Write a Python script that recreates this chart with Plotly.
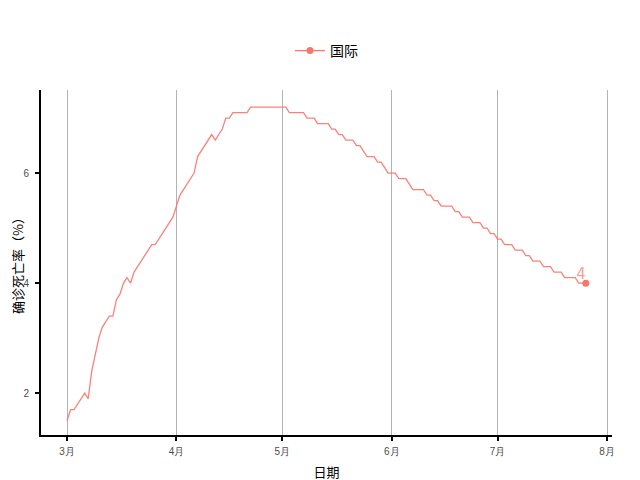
import pandas as pd
import plotly.graph_objects as go

# daily death rate of confirmed cases (%), 2020-03-01 onward
start_date = "2020-03-01"
death_rate = [
    1.5, 1.7, 1.7, 1.8, 1.9, 2.0, 1.9, 2.4, 2.7, 3.0,
    3.2, 3.3, 3.4, 3.4, 3.7, 3.8, 4.0, 4.1, 4.0, 4.2,
    4.3, 4.4, 4.5, 4.6, 4.7, 4.7, 4.8, 4.9, 5.0, 5.1,
    5.2, 5.4, 5.6, 5.7, 5.8, 5.9, 6.0, 6.3, 6.4, 6.5,
    6.6, 6.7, 6.6, 6.7, 6.8, 7.0, 7.0, 7.1, 7.1, 7.1,
    7.1, 7.1, 7.2, 7.2, 7.2, 7.2, 7.2, 7.2, 7.2, 7.2,
    7.2, 7.2, 7.2, 7.1, 7.1, 7.1, 7.1, 7.1, 7.0, 7.0,
    7.0, 6.9, 6.9, 6.9, 6.9, 6.8, 6.8, 6.7, 6.7, 6.6,
    6.6, 6.6, 6.5, 6.5, 6.4, 6.3, 6.3, 6.3, 6.2, 6.2,
    6.1, 6.0, 6.0, 6.0, 5.9, 5.9, 5.9, 5.8, 5.7, 5.7,
    5.7, 5.7, 5.6, 5.6, 5.5, 5.5, 5.4, 5.4, 5.4, 5.4,
    5.3, 5.3, 5.2, 5.2, 5.2, 5.1, 5.1, 5.1, 5.0, 5.0,
    4.9, 4.9, 4.8, 4.8, 4.7, 4.7, 4.7, 4.6, 4.6, 4.6,
    4.5, 4.5, 4.4, 4.4, 4.4, 4.3, 4.3, 4.3, 4.2, 4.2,
    4.2, 4.1, 4.1, 4.1, 4.1, 4.0, 4.0, 4.0,
]
series_name = "国际"
end_label = "4"
month_ticks = ["2020-03-01", "2020-04-01", "2020-05-01", "2020-06-01", "2020-07-01", "2020-08-01"]
month_labels = ["3月", "4月", "5月", "6月", "7月", "8月"]

dates = pd.date_range(start_date, periods=len(death_rate), freq="D")
color = "#F8766D"
font = "Noto Sans CJK SC"

fig = go.Figure()
fig.add_trace(go.Scatter(x=dates, y=death_rate, mode="lines",
                         line=dict(color=color, width=1.3), opacity=0.9, showlegend=False))
# last point with label
fig.add_trace(go.Scatter(x=[dates[-1]], y=[death_rate[-1]], mode="lines+markers",
                         name=series_name, line=dict(color=color, width=1.3),
                         marker=dict(color=color, size=7)))
fig.add_trace(go.Scatter(x=[dates[-1]], y=[death_rate[-1]], mode="text",
                         text=[end_label], textposition="top left",
                         textfont=dict(color="#F9A09A", size=15, family="DejaVu Sans"),
                         showlegend=False))

# page body adds 8px offset, margins compensate for it
fig.update_layout(
    width=640, height=480,
    plot_bgcolor="white", paper_bgcolor="white",
    margin=dict(l=33, r=36, t=82, b=53),
    font=dict(family=font, color="black"),
    legend=dict(orientation="h", x=0.5, xanchor="center", y=1.113, yanchor="middle",
                font=dict(size=14)),
)
fig.update_xaxes(
    range=["2020-02-22 15:00", "2020-08-02 10:00"],
    tickvals=month_ticks, ticktext=month_labels,
    showgrid=True, gridcolor="#B3B3B3", gridwidth=1,
    showline=True, linecolor="black", linewidth=2,
    ticks="outside", tickcolor="black", ticklen=4, tickwidth=2,
    tickfont=dict(size=10, color="#4D4D4D", family="Liberation Sans"),
    ticklabelstandoff=2,
    title=dict(text="日期", font=dict(size=13), standoff=12),
    zeroline=False, automargin=False,
)
fig.update_yaxes(
    range=[1.24, 7.51],
    tickvals=[2, 4, 6],
    showgrid=False,
    showline=True, linecolor="black", linewidth=2,
    ticks="outside", tickcolor="black", ticklen=4, tickwidth=2,
    tickfont=dict(size=10, color="#4D4D4D", family="Liberation Sans"),
    ticklabelstandoff=4,
    title=dict(text="确诊死亡率（%）", font=dict(size=13), standoff=16),
    zeroline=False, automargin=False,
)

fig.write_html("out.html")
